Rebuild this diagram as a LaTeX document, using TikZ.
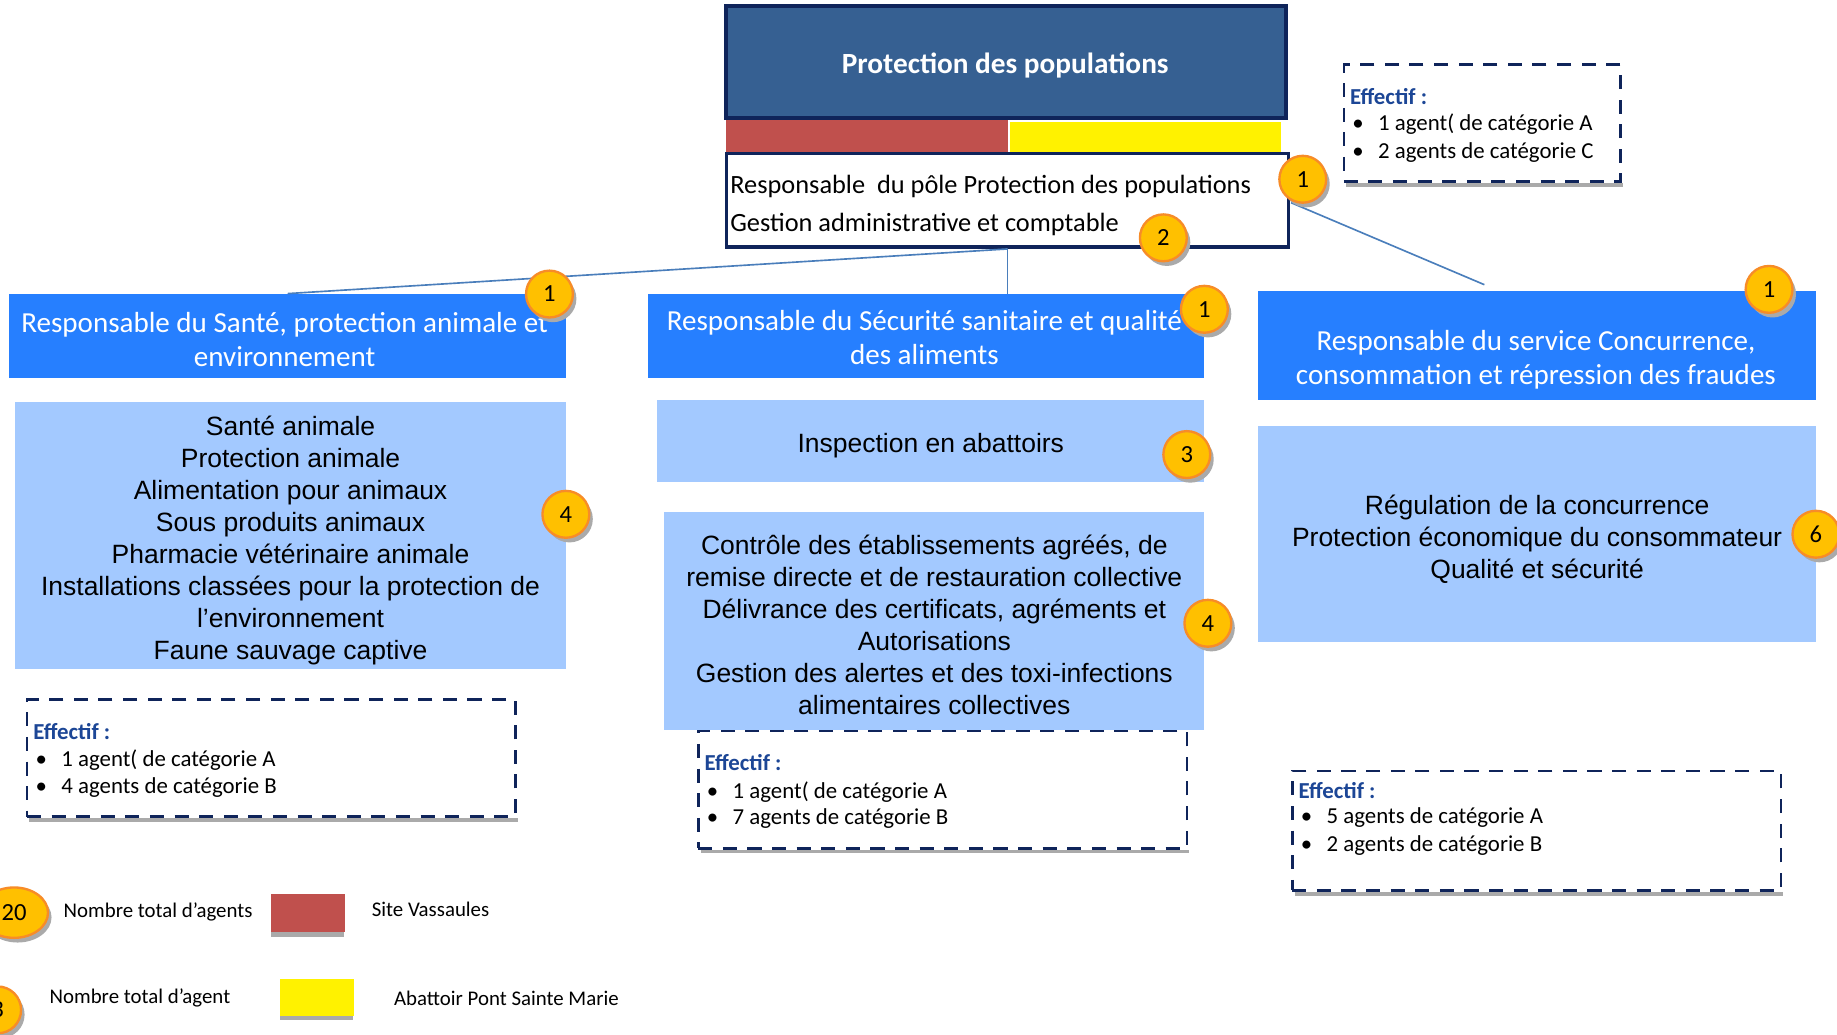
\documentclass[tikz,border=0pt]{standalone}
\usepackage{fontspec}
\setmainfont{Carlito}
\newfontfamily\arialf{Liberation Sans}
\usetikzlibrary{shadows,shapes.geometric}
\definecolor{titlefill}{RGB}{54,96,146}
\definecolor{navy}{RGB}{15,36,90}
\definecolor{hdrblue}{RGB}{38,127,255}
\definecolor{lightblue}{RGB}{163,201,255}
\definecolor{redbar}{RGB}{192,80,77}
\definecolor{effblue}{RGB}{28,70,150}
\definecolor{linkblue}{RGB}{74,126,187}
\definecolor{badgefill}{RGB}{255,192,0}
\definecolor{badgeborder}{RGB}{247,140,40}
\definecolor{shadowgray}{RGB}{170,170,170}
\begin{document}
\begin{tikzpicture}[x=0.5pt,y=-0.5pt,
  hdr/.style={fill=hdrblue, draw=none, inner sep=0pt},
  hdrtext/.style={inner sep=0pt, text=white, font=\fontsize{12.4}{14.5}\selectfont, align=center},
  lbox/.style={fill=lightblue, draw=none, inner sep=0pt},
  ltext/.style={inner sep=0pt, font=\arialf\fontsize{11.3}{13.65}\selectfont, align=center},
  effbox/.style={draw=navy, line width=1.1pt, dash pattern=on 6pt off 4.5pt, fill=white, inner sep=0pt},
  efftitle/.style={anchor=west, inner sep=0pt, text=effblue, font=\fontsize{9.75}{11}\selectfont\bfseries},
  effitem/.style={anchor=west, inner sep=0pt, font=\fontsize{9.75}{11}\selectfont},
  badge/.style={circle, fill=badgefill, draw=badgeborder, line width=1pt, minimum size=20pt, inner sep=0pt,
    font=\fontsize{10.5}{12}\selectfont,
    drop shadow={shadow xshift=1.5pt, shadow yshift=-2pt, fill=shadowgray, opacity=1}},
  link/.style={draw=linkblue, line width=0.7pt},
  legtext/.style={anchor=west, inner sep=0pt, font=\fontsize{8.9}{10}\selectfont},
  swatch/.style={draw=none, inner sep=0pt, minimum width=31.5pt, minimum height=16pt}
]
\useasboundingbox (0,0) rectangle (1568,883.4);
\fill[white] (0,0) rectangle (1568,883.4);

% ---------- top block ----------
\node[fill=titlefill, draw=navy, line width=1.75pt, minimum width=239pt, minimum height=48pt, inner sep=0pt] (title) at (859,53) {};
\node[inner sep=0pt, text=white, font=\fontsize{12.5}{14}\selectfont\bfseries] (titlet) at (858,56) {Protection des populations};
\node[fill=redbar, swatch, minimum width=120pt, minimum height=14.5pt] (redtop) at (740,116.5) {};
\node[fill=yellow, swatch, minimum width=115.5pt, minimum height=13.5pt] (yeltop) at (977.5,117.5) {};
\node[fill=white, draw=navy, line width=1.5pt, minimum width=240pt, minimum height=40pt, inner sep=0pt] (wbox) at (860,171) {};
\node[anchor=west, inner sep=0pt, font=\fontsize{11.25}{13}\selectfont] (wl1) at (623,159) {Responsable\ \ du pôle Protection des populations};
\node[anchor=west, inner sep=0pt, font=\fontsize{11.25}{13}\selectfont] (wl2) at (623,192) {Gestion administrative et comptable};

% top effectif
\draw[shadowgray, line width=1.5pt] (1149,158) -- (1385,158);
\node[effbox, minimum width=118pt, minimum height=50pt] (effT) at (1265,105) {};
\node[efftitle] (effTt) at (1152,82) {Effectif :};
\node[effitem] (effT1) at (1154,106) {\makebox[11pt][l]{\textbullet}1 agent( de catégorie A};
\node[effitem] (effT2) at (1154,130) {\makebox[11pt][l]{\textbullet}2 agents de catégorie C};

% ---------- headers ----------
\node[hdr, minimum width=237.5pt, minimum height=36pt] (lhdr) at (245.5,287) {};
\node[hdrtext] (lhdrt) at (243,290) {Responsable du Santé, protection animale et\\environnement};
\node[hdr, minimum width=237.5pt, minimum height=36pt] (mhdr) at (790.5,287) {};
\node[hdrtext] (mhdrt) at (789,288) {Responsable du Sécurité sanitaire et qualité\\des aliments};
\node[hdr, minimum width=238pt, minimum height=46.5pt] (rhdr) at (1312,294.5) {};
\node[hdrtext] (rhdrt) at (1311,307) {Responsable du service Concurrence,\\consommation et répression des fraudes};

% ---------- connectors ----------
\coordinate (wR) at (1102,173);
\coordinate (rEnd) at (1267,243);
\draw[link] (wbox.south) -- (lhdr.north);
\draw[link] (wbox.south) -- (wbox.south |- mhdr.north);
\draw[link] (wR) -- (rEnd);

% ---------- light boxes ----------
\node[lbox, minimum width=235pt, minimum height=114pt] (lbox1) at (248,457) {};
\node[ltext] (lbox1t) at (248,461)
  {Santé animale\\Protection animale\\Alimentation pour animaux\\Sous produits animaux\\Pharmacie vétérinaire animale\\Installations classées pour la protection de\\l’environnement\\Faune sauvage captive};
\node[lbox, minimum width=233.5pt, minimum height=35pt] (insp) at (794.5,376) {};
\node[ltext] (inspt) at (794.5,380) {Inspection en abattoirs};
\node[lbox, minimum width=230.5pt, minimum height=93pt] (mbox) at (797.5,530) {};
\node[ltext] (mboxt) at (797.5,533)
  {Contrôle des établissements agréés, de\\remise directe et de restauration collective\\Délivrance des certificats, agréments et\\Autorisations\\Gestion des alertes et des toxi-infections\\alimentaires collectives};
\node[lbox, minimum width=238pt, minimum height=92pt] (rbox) at (1312,456) {};
\node[ltext] (rboxt) at (1312,460)
  {Régulation de la concurrence\\Protection économique du consommateur\\Qualité et sécurité};

% ---------- effectif boxes ----------
\draw[shadowgray, line width=1.5pt] (25,700) -- (442,700);
\node[effbox, minimum width=208.5pt, minimum height=50pt] (effL) at (231.5,647) {};
\node[efftitle] (effLt) at (28,624) {Effectif :};
\node[effitem] (effL1) at (30,649) {\makebox[11pt][l]{\textbullet}1 agent( de catégorie A};
\node[effitem] (effL2) at (30,672) {\makebox[11pt][l]{\textbullet}4 agents de catégorie B};

\draw[shadowgray, line width=1.5pt] (598,727) -- (1015,727);
\node[effbox, minimum width=208.5pt, minimum height=50pt] (effM) at (804.5,674) {};
\node[efftitle] (effMt) at (601,651) {Effectif :};
\node[effitem] (effM1) at (603,676) {\makebox[11pt][l]{\textbullet}1 agent( de catégorie A};
\node[effitem] (effM2) at (603,699) {\makebox[11pt][l]{\textbullet}7 agents de catégorie B};

\draw[shadowgray, line width=1.5pt] (1105,763) -- (1522,763);
\node[effbox, minimum width=208.5pt, minimum height=51pt] (effR) at (1311.5,709) {};
\node[efftitle] (effRt) at (1108,675) {Effectif :};
\node[effitem] (effR1) at (1110,698) {\makebox[11pt][l]{\textbullet}5 agents de catégorie A};
\node[effitem] (effR2) at (1110,722) {\makebox[11pt][l]{\textbullet}2 agents de catégorie B};

% ---------- badges ----------
\node[badge] (b1) at (1112,153) {1};
\node[badge] (b2) at (993,203) {2};
\node[badge] (bL1) at (469,251) {1};
\node[badge] (bL4) at (483,439) {4};
\node[badge] (bM1) at (1028,264) {1};
\node[badge] (bM3) at (1013,388) {3};
\node[badge] (bM4) at (1031,532) {4};
\node[badge] (bR1) at (1510,247) {1};
\node[badge] (bR6) at (1550,456) {6};

% ---------- legend ----------
\node[badge, ellipse, minimum width=29pt, minimum height=21.5pt] (leg20) at (12,779) {20};
\node[legtext] (leg20t) at (54,778) {Nombre total d’agents};
\fill[shadowgray] (231,795) rectangle (294,800);
\node[swatch, fill=redbar, anchor=north west] (legred) at (231,763) {};
\node[legtext] (legredt) at (317,776) {Site Vassaules};
\node[badge] (leg3) at (-2,862) {3};
\node[legtext] (leg3t) at (42,852) {Nombre total d’agent};
\fill[shadowgray] (239,866) rectangle (301,871);
\node[swatch, fill=yellow, anchor=north west] (legyel) at (239,835) {};
\node[legtext] (legyelt) at (336,852) {Abattoir Pont Sainte Marie};
\end{tikzpicture}
\end{document}
